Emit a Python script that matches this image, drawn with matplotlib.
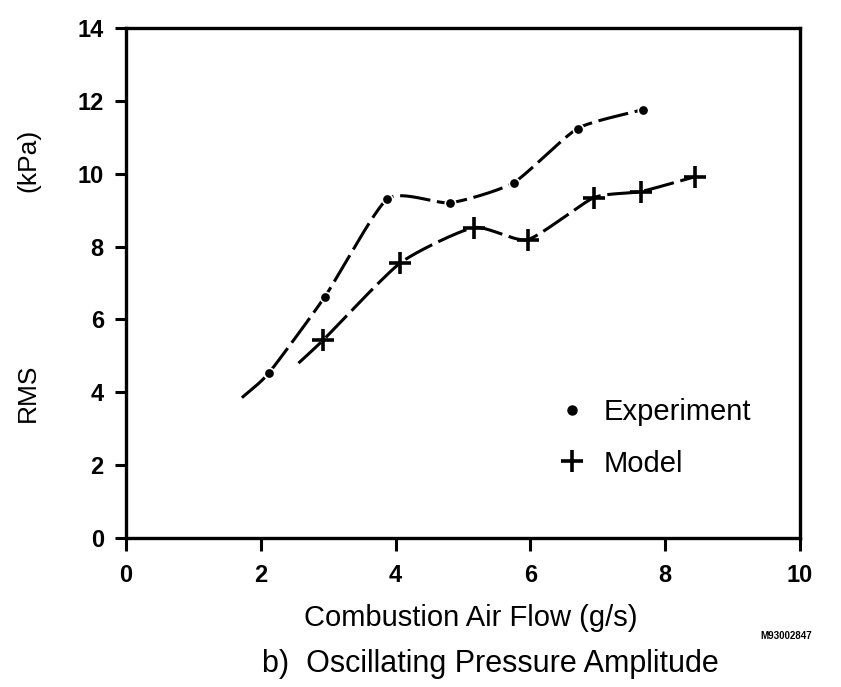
#! /usr/bin/env python3
"""
RMS oscillating pressure amplitude v. combustion air flow, experiment and model.
"""

import numpy as np
import matplotlib
matplotlib.use("Agg")
import matplotlib.pyplot as plt
from matplotlib.lines import Line2D

# experiment points (g/s, kPa)
exp_flow = [2.12, 2.95, 3.88, 4.81, 5.75, 6.70, 7.67]
exp_rms = [4.53, 6.62, 9.31, 9.20, 9.75, 11.24, 11.76]
# where the drawn experiment curve starts, below the first point
exp_curve_start = (1.72, 3.85)

# model points (g/s, kPa)
model_flow = [2.93, 4.07, 5.16, 5.96, 6.94, 7.64, 8.45]
model_rms = [5.44, 7.55, 8.52, 8.19, 9.34, 9.51, 9.92]
model_curve_start = (2.56, 4.80)

x_ticks = [0, 2, 4, 6, 8, 10]
y_ticks = [0, 2, 4, 6, 8, 10, 12, 14]


def smooth_curve(x, y, tension=0.4, per_seg=60):
    """Cardinal spline through the points (tension 0 is Catmull-Rom)."""
    p = np.column_stack([np.asarray(x, float), np.asarray(y, float)])
    n = len(p)
    m = np.zeros_like(p)
    for i in range(n):
        lo, hi = max(i - 1, 0), min(i + 1, n - 1)
        m[i] = (1 - tension) * (p[hi] - p[lo]) / (hi - lo) * (
            1 if 0 < i < n - 1 else 1)
    t = np.linspace(0, 1, per_seg)[:, None]
    h00 = 2 * t ** 3 - 3 * t ** 2 + 1
    h10 = t ** 3 - 2 * t ** 2 + t
    h01 = -2 * t ** 3 + 3 * t ** 2
    h11 = t ** 3 - t ** 2
    out = [h00 * p[i] + h10 * m[i] + h01 * p[i + 1] + h11 * m[i + 1]
           for i in range(n - 1)]
    c = np.vstack(out)
    return c[:, 0], c[:, 1]


def main():
    plt.rcParams["font.family"] = ["Liberation Sans", "DejaVu Sans"]
    fig = plt.figure(figsize=(8.41, 6.87), dpi=100)
    ax = fig.add_axes([0.1498, 0.2169, 0.8014, 0.7424])

    dash = dict(color="black", linewidth=2.2, dashes=(10, 2.2))
    xs, ys = smooth_curve([exp_curve_start[0]] + exp_flow,
                          [exp_curve_start[1]] + exp_rms)
    ax.plot(xs, ys, **dash)
    xs, ys = smooth_curve([model_curve_start[0]] + model_flow,
                          [model_curve_start[1]] + model_rms)
    ax.plot(xs, ys, **dash)

    ax.plot(exp_flow, exp_rms, linestyle="None", marker="o", markersize=7.5,
            color="black", markeredgecolor="white", markeredgewidth=1.2)
    ax.plot(model_flow, model_rms, linestyle="None", marker="+",
            markersize=16, markeredgewidth=2.6, color="black")

    ax.set_xlim(0, 10)
    ax.set_ylim(0, 14)
    ax.set_xticks(x_ticks)
    ax.set_yticks(y_ticks)
    for side in ax.spines.values():
        side.set_linewidth(2.4)
    ax.tick_params(direction="out", length=8, width=2.2, labelsize=17,
                   pad=8)
    ax.tick_params(axis="x", length=9, pad=10)
    for label in ax.get_xticklabels() + ax.get_yticklabels():
        label.set_fontweight("bold")

    handles = [
        Line2D([], [], linestyle="None", marker="o", markersize=6.5,
               color="black"),
        Line2D([], [], linestyle="None", marker="+", markersize=16,
               markeredgewidth=2.6, color="black"),
    ]
    ax.legend(handles, ["Experiment", "Model"], loc="center left",
              bbox_to_anchor=(0.64, 0.196), frameon=False, fontsize=21,
              handlelength=1.0, handletextpad=0.6, labelspacing=0.8,
              borderpad=0, borderaxespad=0)

    ax.text(-0.145, 0.284, "RMS", transform=ax.transAxes, rotation=90,
            ha="center", va="center", fontsize=19)
    ax.text(-0.145, 0.741, "(kPa)", transform=ax.transAxes, rotation=90,
            ha="center", va="center", fontsize=19)

    fig.text(0.56, 1 - 618 / 687, "Combustion Air Flow (g/s)", ha="center",
             va="center", fontsize=21)
    fig.text(0.583, 1 - 664 / 687, "b)  Oscillating Pressure Amplitude",
             ha="center", va="center", fontsize=22)
    fig.text(0.935, 1 - 636 / 687, "M93002847", ha="center", va="center",
             fontsize=7, fontweight="bold")

    fig.savefig("out.png", dpi=100)


if __name__ == "__main__":
    main()
